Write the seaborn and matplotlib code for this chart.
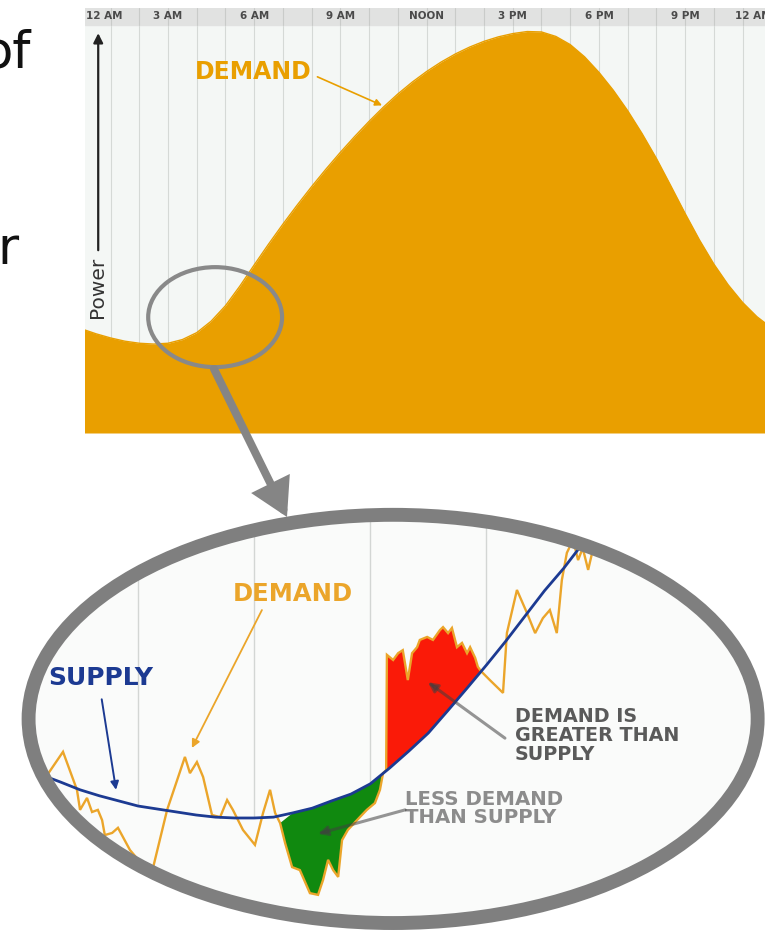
import numpy as np
import matplotlib
matplotlib.use("Agg")
import matplotlib.pyplot as plt
import seaborn as sns
from matplotlib.patches import Ellipse, FancyArrowPatch, ArrowStyle

# ---------------- data ----------------
# top chart: daily demand profile (hour of day -> power, 0..100), read every half hour
hours = [0, 0.5, 1, 1.5, 2, 2.5, 3, 3.5, 4, 4.5, 5, 5.5, 6, 6.5, 7, 7.5, 8, 8.5,
         9, 9.5, 10, 10.5, 11, 11.5, 12, 12.5, 13, 13.5, 14, 14.5, 15, 15.5,
         16, 16.5, 17, 17.5, 18, 18.5, 19, 19.5, 20, 20.5, 21, 21.5, 22, 22.5,
         23, 23.5, 24]
demand_profile = [25.5, 24.3, 23.3, 22.5, 22.0, 21.8, 22.0, 22.9, 24.6, 27.4,
                  31.2, 36.0, 41.2, 46.3, 51.2, 55.9, 60.4, 64.7, 68.8, 72.7,
                  76.4, 79.9, 83.1, 86.0, 88.6, 90.9, 92.9, 94.6, 96.0, 97.1,
                  97.9, 98.4, 98.3, 97.2, 95.2, 92.2, 88.4, 84.0, 79.0, 73.4,
                  67.3, 60.6, 53.8, 47.3, 41.4, 36.3, 32.0, 28.5, 25.8]
grid_hours = list(range(25))
tick_hours = [0, 3, 6, 9, 12, 15, 18, 21, 24]
tick_labels = ["12 AM", "3 AM", "6 AM", "9 AM", "NOON", "3 PM", "6 PM", "9 PM", "12 AM"]

# zoomed view: minutes -> power
supply_min = [0, 5, 10, 15, 20, 25, 30, 35, 40, 45, 50, 55, 60, 65, 70, 75, 80,
              85, 90, 95, 100, 105, 110, 115, 120, 125, 130, 135, 140, 145, 150]
supply_val = [37.9, 36.8, 35.1, 33.3, 31.9, 30.7, 29.5, 28.8, 28.1, 27.4, 26.9,
              26.7, 26.7, 26.9, 27.9, 29.0, 30.7, 32.3, 34.7, 38.4, 42.4, 46.6,
              51.8, 57.1, 62.5, 68.1, 74.0, 79.9, 85.2, 91.1, 97.0]

demand_min = [2.1, 10.6, 14.2, 15.0, 16.8, 18.1, 19.6, 20.7, 21.4, 23.3, 24.8,
              27.9, 31.8, 33.1, 37.5, 40.1, 42.1, 43.4, 45.2, 46.8, 49.1, 51.2,
              53.0, 54.5, 57.1, 60.2, 62.3, 64.1, 65.4, 66.7,
              68.0, 69.8, 71.8, 74.4, 76.5, 77.8, 79.1, 80.4, 81.7, 82.7, 84.2,
              87.3, 89.1, 91.2, 92.5, 93.3,
              94.1, 94.3, 95.9, 97.2, 98.4, 99.7, 100.8, 102.1, 102.8, 104.7,
              106.2, 108.0, 108.8, 110.1, 111.1, 112.4, 113.7, 115.0, 115.8,
              117.1, 117.8, 118.6,
              120.9, 124.3, 125.3, 127.9, 130.5, 132.6, 134.6, 136.4, 138.2,
              139.5, 140.8, 142.4, 143.7, 144.9, 146.3, 148.1, 149.4]
demand_val = [30.9, 42.2, 33.3, 28.6, 31.4, 28.1, 28.6, 26.2, 22.7, 23.2, 24.4,
              19.2, 15.0, 12.2, 28.6, 35.6, 41.0, 37.2, 39.8, 36.3, 27.4, 26.9,
              30.9, 28.6, 23.9, 20.4, 27.9, 33.3, 27.9, 25.5,
              20.8, 15.2, 14.5, 9.1, 8.7, 12.2, 16.9, 14.5, 12.9, 21.5, 23.9,
              26.9, 28.6, 30.2, 33.3, 37.2,
              37.9, 64.9, 63.7, 65.3, 66.0, 59.0, 65.3, 66.7, 68.4, 69.1,
              68.4, 70.7, 71.4, 70.0, 71.2, 66.7, 67.7, 65.3, 66.7,
              64.2, 62.1, 61.1,
              59.0, 56.0, 70.0, 80.1, 74.7, 70.0, 73.5, 75.4, 70.0,
              82.4, 88.8, 91.8, 87.1, 89.9, 84.8, 91.8, 96.5]
zoom_grid_min = [30, 60, 90, 120]
shortfall_range = (66.7, 93.3)   # demand below supply (green)
surplus_range = (94.1, 118.6)    # demand above supply (red)

# ---------------- style ----------------
sns.set_theme(style="white")
plt.rcParams["font.family"] = ["DejaVu Sans"]

ORANGE = "#E99F00"
ORANGE_LINE = "#EBA52A"
BLUE = "#1C3A92"
GREEN = "#10890F"
RED = "#FA1A08"
RING = "#7F7F7F"

W, H = 765, 936
fig = plt.figure(figsize=(W / 100, H / 100), dpi=100)
fig.patch.set_facecolor("white")


def fx(px):
    return px / W


def fy(py):
    return 1 - py / H


# ---------------- left cropped slide text ----------------
fig.text(fx(31), fy(67), "of", fontsize=37, color="#111111", ha="right", va="baseline")
fig.text(fx(19), fy(264), "r", fontsize=37, color="#111111", ha="right", va="baseline")

# ---------------- top chart ----------------
ax = fig.add_axes([fx(85), fy(433), (765 - 85) / W, (433 - 8) / H])
ax.set_facecolor("#F4F7F5")
ax.set_xlim(0.11, 23.78)
ax.set_ylim(0, 104.17)
for h in grid_hours:
    ax.axvline(h, color="#D5D9D6", lw=0.8, zorder=0)
ax.axhspan(100, 104.17, color="#E1E2E1", zorder=0.5)
for h in grid_hours:
    ax.plot([h, h], [100, 104.17], color="#C9CBC9", lw=0.8, zorder=0.6)

sns.lineplot(x=hours, y=demand_profile, ax=ax, color=ORANGE, lw=1.0, zorder=3)
ax.fill_between(hours, 0, demand_profile, color=ORANGE, lw=0, zorder=2)

for i, (h, lab) in enumerate(zip(tick_hours, tick_labels)):
    ha = "left" if i == 0 else ("right" if i == len(tick_hours) - 1 else "center")
    x = ax.get_xlim()[0] + 0.05 if i == 0 else h
    ax.text(x, 102.1, lab, fontsize=7.5, fontweight="bold", color="#4A4A4A",
            ha=ha, va="center", zorder=5, clip_on=True)

# power axis arrow
ax.annotate("", xy=(0.57, 98.0), xytext=(0.57, 44.8),
            arrowprops=dict(arrowstyle="-|>", color="#222222", lw=1.6,
                            mutation_scale=14, shrinkA=0, shrinkB=0), zorder=6)
ax.text(0.53, 35.6, "Power", rotation=90, fontsize=14.5, color="#333333",
        ha="center", va="center", zorder=6)

# demand label
ax.text(5.95, 88.6, "DEMAND", fontsize=17, fontweight="bold", color=ORANGE,
        ha="center", va="center", zorder=6)
ax.annotate("", xy=(10.45, 80.3), xytext=(8.2, 87.3),
            arrowprops=dict(arrowstyle="-|>", color=ORANGE, lw=1.2,
                            mutation_scale=10, shrinkA=0, shrinkB=0), zorder=6)

# magnifier lens
ax.add_patch(Ellipse((4.64, 28.4), 4.66, 24.5, fill=False, edgecolor="#898989",
                     lw=3.0, zorder=7))
sns.despine(ax=ax, left=True, bottom=True, top=True, right=True)
ax.set_xticks([])
ax.set_yticks([])

# ---------------- zoomed chart ----------------
ax2 = fig.add_axes([fx(22), fy(932), 743 / W, 427 / H])
ax2.set_xlim(0, 192)
ax2.set_ylim(0, 100)
ax2.axis("off")

ecx, ecy, ew, eh = 95.9, 49.9, 188.4, 95.6
clip = Ellipse((ecx, ecy), ew, eh, facecolor="#FAFBFA", edgecolor="none", zorder=0)
ax2.add_patch(clip)

sm = np.array(supply_min)
sv = np.array(supply_val)
dm = np.array(demand_min)
dv = np.array(demand_val)

# grid lines from supply curve upward
for g in zoom_grid_min:
    sy = sv[list(supply_min).index(g)]
    ln = ax2.vlines(g, sy, 100, color="#D3D6D4", lw=1.0, zorder=1)
    ln.set_clip_path(clip)


def region(a, b):
    dsel = (dm >= a) & (dm <= b)
    ssel = (sm > a) & (sm < b)
    xs = np.concatenate([dm[dsel], sm[ssel][::-1]])
    ys = np.concatenate([dv[dsel], sv[ssel][::-1]])
    return xs, ys


gx, gy = region(*shortfall_range)
rx, ry = region(*surplus_range)
pg = ax2.fill(gx, gy, color=GREEN, lw=0, zorder=2)
pr = ax2.fill(rx, ry, color=RED, lw=0, zorder=2)
for p in pg + pr:
    p.set_clip_path(clip)

n0 = len(ax2.lines)
sns.lineplot(x=demand_min, y=demand_val, ax=ax2, color=ORANGE_LINE, lw=1.7,
             sort=False, estimator=None, zorder=3)
sns.lineplot(x=supply_min, y=supply_val, ax=ax2, color=BLUE, lw=2.0,
             sort=False, estimator=None, zorder=4)
for ln in ax2.lines[n0:]:
    ln.set_clip_path(clip)
    ln.set_solid_joinstyle("miter")
if ax2.get_legend() is not None:
    ax2.get_legend().remove()

# labels
ax2.text(20.4, 59.5, "SUPPLY", fontsize=18, fontweight="bold", color=BLUE,
         ha="center", va="center", zorder=6)
ax2.annotate("", xy=(24.3, 33.3), xytext=(20.6, 54.5),
             arrowprops=dict(arrowstyle="-|>", color=BLUE, lw=1.4,
                             mutation_scale=12, shrinkA=0, shrinkB=0), zorder=6)

ax2.text(70.0, 79.2, "DEMAND", fontsize=17.5, fontweight="bold", color=ORANGE_LINE,
         ha="center", va="center", zorder=6)
ax2.annotate("", xy=(43.9, 43.1), xytext=(62.0, 75.4),
             arrowprops=dict(arrowstyle="-|>", color=ORANGE_LINE, lw=1.3,
                             mutation_scale=12, shrinkA=0, shrinkB=0), zorder=6)

ax2.text(127.4, 52.8, "DEMAND IS\nGREATER THAN\nSUPPLY", fontsize=13.8,
         fontweight="bold", color="#5A5A5A", ha="left", va="top",
         linespacing=1.0, zorder=6)
ax2.annotate("", xy=(104.9, 58.5), xytext=(124.8, 45.4),
             arrowprops=dict(arrowstyle="-|>", color=(0.25, 0.25, 0.25, 0.55),
                             lw=2.2, mutation_scale=14, shrinkA=0, shrinkB=0), zorder=6)

ax2.text(99.0, 33.3, "LESS DEMAND\nTHAN SUPPLY", fontsize=14.2, fontweight="bold",
         color="#8C8C8C", ha="left", va="top", linespacing=0.95, zorder=6)
ax2.annotate("", xy=(76.5, 23.0), xytext=(99.0, 28.6),
             arrowprops=dict(arrowstyle="-|>", color=(0.25, 0.25, 0.25, 0.55),
                             lw=2.2, mutation_scale=14, shrinkA=0, shrinkB=0), zorder=6)

# ring
ax2.add_patch(Ellipse((ecx, ecy), ew, eh, fill=False, edgecolor=RING, lw=10,
                      zorder=10, clip_on=False))

# magnifier handle arrow
handle = FancyArrowPatch((fx(214), fy(369)), (fx(287), fy(517)),
                         transform=fig.transFigure,
                         arrowstyle=ArrowStyle("-|>", head_length=1.3, head_width=0.75),
                         mutation_scale=14, lw=5.8, color="#858585",
                         shrinkA=0, shrinkB=0, joinstyle="miter", zorder=20)
fig.add_artist(handle)

fig.savefig("out.png", dpi=100, facecolor="white")
